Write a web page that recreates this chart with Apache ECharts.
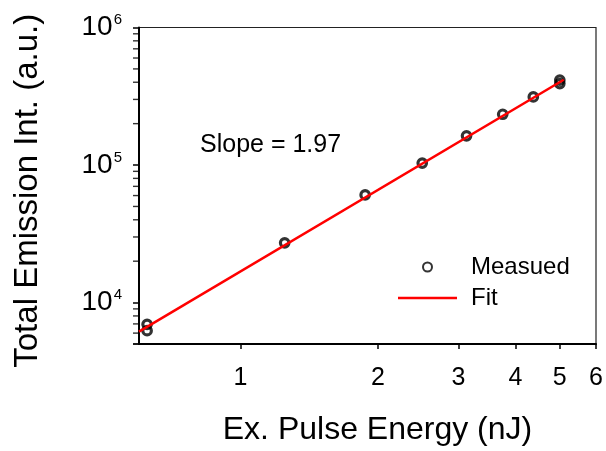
<!DOCTYPE html>
<html>
<head>
<meta charset="utf-8">
<script src="https://cdn.jsdelivr.net/npm/echarts@6/dist/echarts.min.js"></script>
<style>html,body{margin:0;padding:0;background:#fff}#c{width:606px;height:451px}</style>
</head>
<body>
<div id="c"></div>
<script>
// Measured data (pulse energy in nJ, total emission intensity in a.u.)
const measX = [0.625, 0.625, 1.25, 1.875, 2.5, 3.125, 3.75, 4.375, 5.0, 5.0];
const measY = [6950, 6250, 27200, 60600, 103400, 163000, 234000, 312600, 415000, 391000];
// Fit line end points
const fitX = [0.6, 5.1];
const fitY = [6150, 417000];
// Axis ticks
const xTicks = [1, 2, 3, 4, 5, 6];
const yMajor = [10000, 100000, 1000000];
const yMinor = [5000, 6000, 7000, 8000, 9000, 20000, 30000, 40000, 50000, 60000, 70000, 80000, 90000,
                200000, 300000, 400000, 500000, 600000, 700000, 800000, 900000];
const xMin = 0.6, xMax = 6, yMin = 5000, yMax = 1000000;
const seriesNames = ['Measued', 'Fit'];
const slopeText = 'Slope = 1.97';
const xName = 'Ex. Pulse Energy (nJ)';
const yName = 'Total Emission Int. (a.u.)';

const FONT = '"Liberation Sans", Arial, sans-serif';
const chart = echarts.init(document.getElementById('c'), null, {renderer: 'canvas'});
const option = {
  animation: false,
  backgroundColor: '#fff',
  textStyle: {fontFamily: FONT, color: '#000'},
  tooltip: {show: false},
  grid: {left: 139, right: 10, top: 27.5, bottom: 105, show: true, borderColor: '#222', borderWidth: 1.2, backgroundColor: 'transparent'},
  xAxis: {
    type: 'log', logBase: 10, min: xMin, max: xMax,
    name: xName, nameLocation: 'middle', nameGap: 70,
    nameTextStyle: {fontSize: 32, fontFamily: FONT, color: '#000', padding: [0, 0, 0, 20]},
    axisLine: {show: true, onZero: false, lineStyle: {color: '#000', width: 2}},
    axisTick: {show: true, inside: false, length: 5, customValues: xTicks, lineStyle: {color: '#000', width: 1.5}},
    axisLabel: {show: true, customValues: xTicks, fontSize: 25, fontFamily: FONT, color: '#000', margin: 22,
      formatter: v => String(Math.round(v))},
    splitLine: {show: false}, minorTick: {show: false}, minorSplitLine: {show: false}
  },
  yAxis: {
    type: 'log', logBase: 10, min: yMin, max: yMax,
    name: yName, nameLocation: 'middle', nameGap: 95, nameRotate: 90,
    nameTextStyle: {fontSize: 33, fontFamily: FONT, color: '#000', padding: [0, 10, 0, 0]},
    axisLine: {show: true, onZero: false, lineStyle: {color: '#000', width: 2}},
    axisTick: {show: true, inside: false, length: 6, lineStyle: {color: '#000', width: 1.5}},
    minorTick: {show: false},
    axisLabel: {show: true, customValues: yMajor, margin: 17,
      formatter: v => '{b|10}{s|' + Math.round(Math.log10(v)) + '}',
      rich: {
        b: {fontSize: 28, fontFamily: FONT, color: '#000', lineHeight: 30},
        s: {fontSize: 15, fontFamily: FONT, color: '#000', verticalAlign: 'top', lineHeight: 30, padding: [0, 0, 12, 1]}
      }},
    splitLine: {show: false}
  },
  legend: {
    orient: 'vertical', left: 398, top: 255, padding: 0,
    itemWidth: 59, itemHeight: 9, itemGap: 7,
    textStyle: {fontSize: 24, fontFamily: FONT, color: '#000', padding: [0, 0, 0, 9]},
    data: [{name: seriesNames[0]}, {name: seriesNames[1], icon: 'path://M0,0H59V2.6H0Z', itemStyle: {color: '#ff0000'}}]
  },
  graphic: [{
    id: 'slope', type: 'text', left: 200, top: 133,
    style: {text: slopeText, font: '25px ' + FONT, fill: '#000'}
  }],
  series: [{
    // minor ticks of the log y axis, placed by the axis scale at the left edge
    name: 'yMinorTicks', type: 'scatter', silent: true, clip: false,
    data: yMinor.map(v => [xMin, v]),
    symbol: 'rect', symbolSize: [5, 1.4], symbolOffset: [-3.5, 0],
    itemStyle: {color: '#000'},
    z: 1
  }, {
    name: seriesNames[0], type: 'scatter',
    data: measX.map((x, i) => [x, measY[i]]),
    symbol: 'circle', symbolSize: 8.5,
    itemStyle: {color: 'rgba(255,255,255,0)', borderColor: '#000', borderWidth: 3.2},
    z: 2
  }, {
    name: seriesNames[1], type: 'line',
    data: fitX.map((x, i) => [x, fitY[i]]),
    symbol: 'none', showSymbol: false,
    lineStyle: {color: '#ff0000', width: 2.5},
    itemStyle: {color: '#ff0000'},
    z: 3
  }]
};
chart.setOption(option);
</script>
</body>
</html>
